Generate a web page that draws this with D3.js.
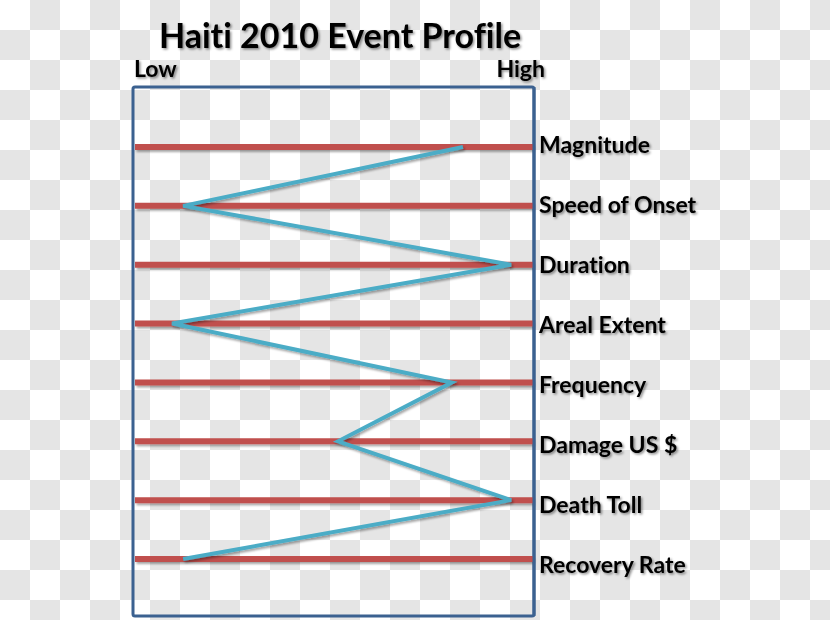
<!DOCTYPE html>
<html>
<head>
<meta charset="utf-8">
<script src="https://cdn.jsdelivr.net/npm/d3@7"></script>
<style>
  body { margin: 0; background: #fff; }
  text { font-family: Lato, "Open Sans", sans-serif; font-weight: bold; fill: #000; font-variant-ligatures: none; }
</style>
</head>
<body>
<svg id="chart"></svg>
<script>
const factors = ["Magnitude", "Speed of Onset", "Duration", "Areal Extent", "Frequency", "Damage US $", "Death Toll", "Recovery Rate"];
const scores = [8.24, 1.21, 9.45, 0.93, 7.96, 5.1, 9.45, 1.21];
const scaleLabels = ["Low", "High"];
const title = "Haiti 2010 Event Profile";

const width = 830, height = 620;
const svg = d3.select("#chart").attr("width", width).attr("height", height);

// transparency checkerboard backdrop
const defs = svg.append("defs");
const pat = defs.append("pattern").attr("id", "checker")
  .attr("width", 60).attr("height", 60).attr("patternUnits", "userSpaceOnUse");
pat.append("rect").attr("width", 60).attr("height", 60).attr("fill", "#ffffff");
pat.append("rect").attr("x", 30).attr("y", 0).attr("width", 30).attr("height", 30).attr("fill", "#e5e5e5");
pat.append("rect").attr("x", 0).attr("y", 30).attr("width", 30).attr("height", 30).attr("fill", "#e5e5e5");
svg.append("rect").attr("width", width).attr("height", height).attr("fill", "url(#checker)");

const shadow = defs.append("filter").attr("id", "shadow")
  .attr("filterUnits", "userSpaceOnUse")
  .attr("x", 0).attr("y", 0).attr("width", width).attr("height", height);
shadow.append("feDropShadow").attr("dx", 1.5).attr("dy", 2).attr("stdDeviation", 1.2)
  .attr("flood-color", "#000").attr("flood-opacity", 0.35);
const tshadow = defs.append("filter").attr("id", "tshadow")
  .attr("x", "-10%").attr("y", "-30%").attr("width", "120%").attr("height", "160%");
tshadow.append("feDropShadow").attr("dx", 1.5).attr("dy", 1.5).attr("stdDeviation", 1)
  .attr("flood-color", "#000").attr("flood-opacity", 0.45);

const box = { left: 133, top: 87, right: 534, bottom: 616 };

const x = d3.scaleLinear().domain([0, 10]).range([135, 533]);
const y = d3.scalePoint().domain(factors).range([147, 559]);
// label baselines run on a slightly wider pitch than the rails
const yLabel = d3.scalePoint().domain(factors).range([153, 573]);

// frame
svg.append("rect")
  .attr("x", box.left).attr("y", box.top)
  .attr("width", box.right - box.left).attr("height", box.bottom - box.top)
  .attr("rx", 2)
  .attr("fill", "none").attr("stroke", "#3b6190").attr("stroke-width", 3);

// red rails
svg.append("g").attr("filter", "url(#shadow)")
  .selectAll("line").data(factors).join("line")
  .attr("x1", x(0)).attr("x2", x(10))
  .attr("y1", d => y(d)).attr("y2", d => y(d))
  .attr("stroke", "#c0504d").attr("stroke-width", 6);

// profile line
const data = factors.map((f, i) => ({ f, v: scores[i] }));
svg.append("g").attr("filter", "url(#shadow)")
  .append("path").datum(data)
  .attr("d", d3.line().x(d => x(d.v)).y(d => y(d.f)))
  .attr("fill", "none").attr("stroke", "#4bacc6").attr("stroke-width", 4)
  .attr("stroke-linejoin", "miter");

// redraw frame's right edge over the rails
svg.append("line")
  .attr("x1", box.right).attr("x2", box.right)
  .attr("y1", box.top).attr("y2", box.bottom)
  .attr("stroke", "#3b6190").attr("stroke-width", 3);

// factor labels
svg.append("g").selectAll("text").data(factors).join("text")
  .attr("x", 539).attr("y", d => yLabel(d))
  .style("font-size", "23px")
  .attr("filter", "url(#tshadow)")
  .text(d => d);

svg.append("text").attr("x", 134).attr("y", 77)
  .style("font-size", "23px").attr("filter", "url(#tshadow)")
  .text(scaleLabels[0]);
svg.append("text").attr("x", 545).attr("y", 77)
  .attr("text-anchor", "end")
  .style("font-size", "23px").attr("filter", "url(#tshadow)")
  .text(scaleLabels[1]);

svg.append("text").attr("x", 340).attr("y", 48)
  .attr("text-anchor", "middle")
  .style("font-size", "34px").attr("filter", "url(#tshadow)")
  .text(title);
</script>
</body>
</html>
